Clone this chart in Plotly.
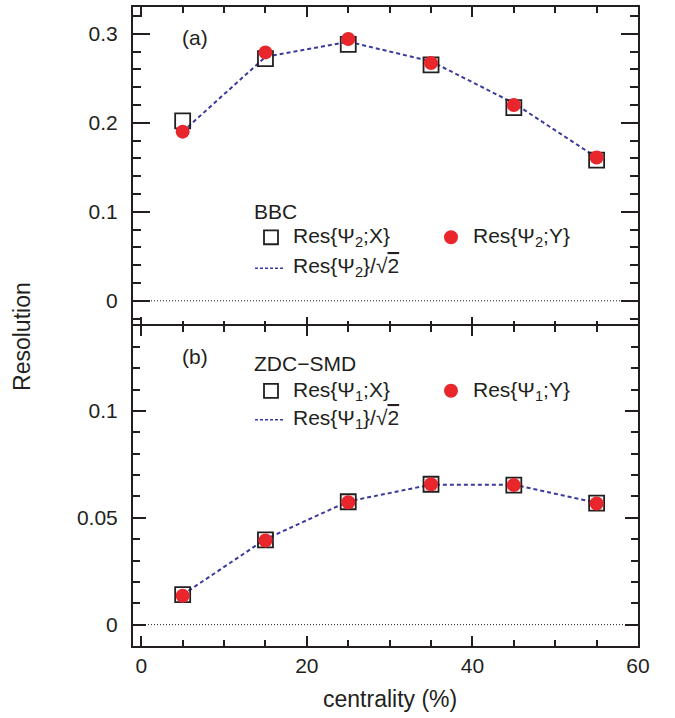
import plotly.graph_objects as go

# ---------------- data ----------------
centrality = [5, 15, 25, 35, 45, 55]

# (a) BBC, second-order plane
bbc_res_x = [0.202, 0.272, 0.288, 0.265, 0.217, 0.158]
bbc_res_y = [0.190, 0.279, 0.294, 0.267, 0.220, 0.161]
bbc_res_sqrt2 = [0.190, 0.274, 0.291, 0.269, 0.222, 0.161]

# (b) ZDC-SMD, first-order plane
zdc_res_x = [0.0140, 0.0397, 0.0575, 0.0657, 0.0653, 0.0569]
zdc_res_y = [0.0135, 0.0394, 0.0573, 0.0657, 0.0653, 0.0567]
zdc_res_sqrt2 = [0.0140, 0.0400, 0.0577, 0.0655, 0.0655, 0.0570]

x_ticks = [0, 20, 40, 60]
top_ticks = [0, 0.1, 0.2, 0.3]
top_ticklabels = ["0", "0.1", "0.2", "0.3"]
bot_ticks = [0, 0.05, 0.1]
bot_ticklabels = ["0", "0.05", "0.1"]

# ---------------- style ----------------
W, H = 675, 718
ML, MR, MT, MB = 133, 37, 5, 72
PW, PH = W - ML - MR, H - MT - MB
INK = "#231f20"
RED = "#e8262b"
BLUE = "#3a3a9c"
FONT = "Liberation Sans, Arial, Helvetica, sans-serif"
LW = 2  # frame line width
OVL = (LW / 2) / PH  # domain overlap so the shared border is drawn once


def px(p):
    return (p - ML) / PW


def py(p):
    return (H - MB - p) / PH


fig = go.Figure()


def add_panel(xa, ya, res_x, res_y, res_line):
    fig.add_trace(go.Scatter(x=centrality, y=res_line, mode="lines", xaxis=xa, yaxis=ya,
                             line=dict(color=BLUE, width=2, dash="4px,3px"),
                             showlegend=False, hoverinfo="skip"))
    fig.add_trace(go.Scatter(x=centrality, y=res_x, mode="markers", xaxis=xa, yaxis=ya,
                             marker=dict(symbol="square-open", size=15, color=INK,
                                         line=dict(width=1.8, color=INK)),
                             showlegend=False))
    fig.add_trace(go.Scatter(x=centrality, y=res_y, mode="markers", xaxis=xa, yaxis=ya,
                             marker=dict(symbol="circle", size=14, color=RED,
                                         line=dict(width=0)),
                             showlegend=False))


add_panel("x", "y", bbc_res_x, bbc_res_y, bbc_res_sqrt2)
add_panel("x2", "y2", zdc_res_x, zdc_res_y, zdc_res_sqrt2)

axis_common = dict(showline=True, linewidth=LW, linecolor=INK, mirror="allticks",
                   ticks="inside", tickcolor=INK, tickwidth=2, showgrid=False,
                   zeroline=False, tickfont=dict(family=FONT, size=21, color=INK))

fig.update_layout(
    width=W, height=H,
    margin=dict(l=ML, r=MR, t=MT, b=MB),
    paper_bgcolor="white", plot_bgcolor="white",
    font=dict(family=FONT, color=INK),
    xaxis=dict(axis_common, domain=[0, 1], anchor="y", range=[-1, 60], tickvals=x_ticks,
               showticklabels=False, ticklen=10,
               minor=dict(dtick=5, tick0=0, ticks="inside", ticklen=6, tickwidth=1.5, tickcolor=INK)),
    yaxis=dict(axis_common, domain=[0.5 - OVL, 1], anchor="x", range=[-0.03, 0.33],
               tickvals=top_ticks, ticktext=top_ticklabels, ticklen=17, ticklabelstandoff=9,
               minor=dict(dtick=0.02, tick0=0, ticks="inside", ticklen=8, tickwidth=1.5, tickcolor=INK)),
    xaxis2=dict(axis_common, domain=[0, 1], anchor="y2", range=[-1, 60], tickvals=x_ticks,
                ticklen=10, ticklabelstandoff=0,
                minor=dict(dtick=5, tick0=0, ticks="inside", ticklen=6, tickwidth=1.5, tickcolor=INK)),
    yaxis2=dict(axis_common, domain=[0, 0.5 + OVL], anchor="x2", range=[-0.01, 0.14],
                tickvals=bot_ticks, ticktext=bot_ticklabels, ticklen=13, ticklabelstandoff=9,
                minor=dict(dtick=0.01, tick0=0, ticks="inside", ticklen=7, tickwidth=1.5, tickcolor=INK)),
)

shapes = []
# zero reference lines
for ya in ["y", "y2"]:
    shapes.append(dict(type="line", xref="paper", x0=0, x1=1, yref=ya, y0=0, y1=0,
                       line=dict(color=INK, width=1, dash="1px,2px")))

annotations = []


def text(s, x, y, size=21, xanchor="left", textangle=0):
    annotations.append(dict(text=s, x=px(x), y=py(y), xref="paper", yref="paper",
                            xanchor=xanchor, yanchor="middle", showarrow=False,
                            textangle=textangle, font=dict(family=FONT, size=size, color=INK)))


def legend_block(header, n, y_head, y_row1, y_row2):
    text(header, 252, y_head)
    # square glyph
    shapes.append(dict(type="rect", xref="paper", yref="paper",
                       x0=px(264), x1=px(278), y0=py(y_row1 + 7), y1=py(y_row1 - 7),
                       line=dict(color=INK, width=1.8), fillcolor="rgba(0,0,0,0)"))
    text(f"Res{{Ψ<sub>{n}</sub>;X}}", 291, y_row1)
    # circle glyph
    shapes.append(dict(type="circle", xref="paper", yref="paper",
                       x0=px(444), x1=px(458), y0=py(y_row1 + 7), y1=py(y_row1 - 7),
                       line=dict(width=0), fillcolor=RED))
    text(f"Res{{Ψ<sub>{n}</sub>;Y}}", 471, y_row1)
    # line glyph
    shapes.append(dict(type="line", xref="paper", yref="paper",
                       x0=px(255), x1=px(284), y0=py(y_row2 + 1), y1=py(y_row2 + 1),
                       line=dict(color=BLUE, width=1.5, dash="3px,2px")))
    text(f"Res{{Ψ<sub>{n}</sub>}}/√<span style='text-decoration:overline'>2</span>", 291, y_row2)


legend_block("BBC", 2, 210, 236, 266)
legend_block("ZDC−SMD", 1, 363, 390, 418)

text("(a)", 195, 36, xanchor="center")
text("(b)", 195, 356, xanchor="center")
text("Resolution", 22, 336, size=23, xanchor="center", textangle=-90)
text("centrality (%)", 390, 699, size=23, xanchor="center")

fig.update_layout(shapes=shapes, annotations=annotations)
fig.write_html("out.html")
